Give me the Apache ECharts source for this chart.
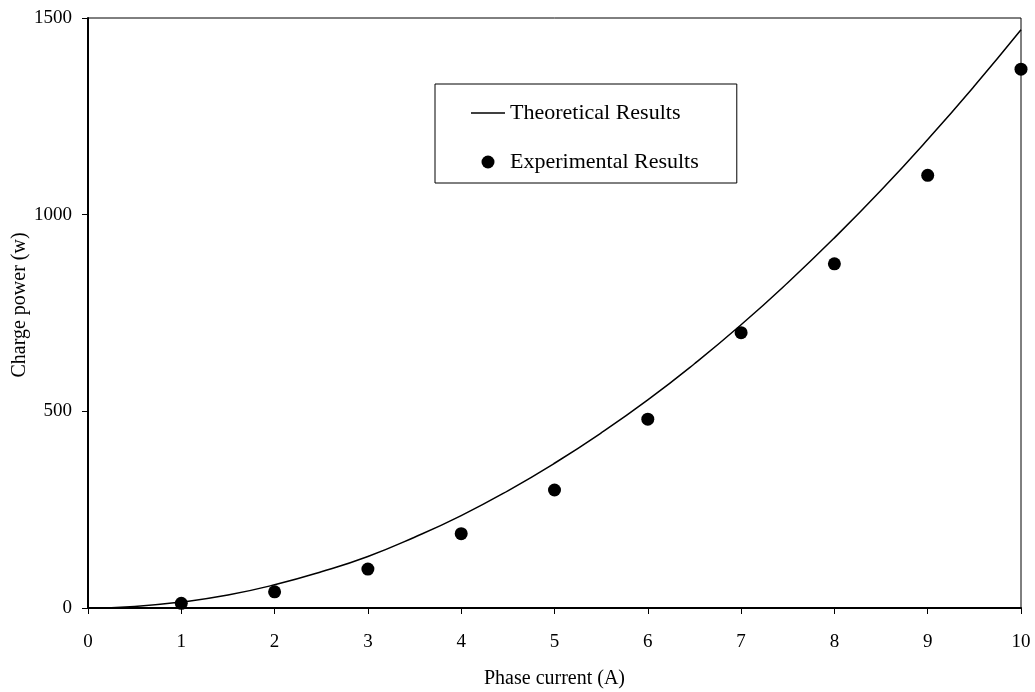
<!DOCTYPE html>
<html lang="en">
<head>
    <meta charset="UTF-8">
    <title>Charge power vs phase current</title>
    <script src="https://cdn.jsdelivr.net/npm/echarts@6/dist/echarts.min.js"></script>
    <style>
        html, body { margin: 0; padding: 0; background: #fff; }
        #main { width: 1035px; height: 692px; }
    </style>
</head>
<body>
<div id="main"></div>
<script type="text/javascript">
    // theoretical curve, every 0.5 A
    var theoX = [0, 0.5, 1, 1.5, 2, 2.5, 3, 3.5, 4, 4.5, 5, 5.5, 6, 6.5, 7, 7.5, 8, 8.5, 9, 9.5, 10];
    var theoY = [0, 4, 15, 33, 59, 92, 131, 180, 235, 298, 368, 445, 529, 621, 720, 827, 941, 1062, 1191, 1327, 1470];
    // measured points
    var expX = [1, 2, 3, 4, 5, 6, 7, 8, 9, 10];
    var expY = [12, 41, 99, 189, 300, 480, 700, 875, 1100, 1370];

    var fontName = '"Liberation Serif", "DejaVu Serif", serif';

    var myChart = echarts.init(document.getElementById('main'));
    var option = {
        animation: false,
        backgroundColor: '#fff',
        textStyle: { fontFamily: fontName, color: '#000' },
        grid: {
            left: 88,
            right: 14,
            top: 18,
            bottom: 84,
            containLabel: false,
            outerBoundsMode: 'none',
            show: true,
            borderColor: '#000',
            borderWidth: 1
        },
        legend: {
            orient: 'vertical',
            left: 435,
            top: 84,
            borderColor: '#000',
            borderWidth: 1,
            padding: [18, 38, 10, 36],
            itemGap: 27,
            itemWidth: 34,
            itemHeight: 13,
            textStyle: { fontFamily: fontName, fontSize: 22, color: '#000' },
            data: [
                { name: 'Theoretical Results', icon: 'path://M0,6 L34,6 L34,7.6 L0,7.6 Z' },
                { name: 'Experimental Results', icon: 'circle' }
            ]
        },
        xAxis: {
            type: 'value',
            min: 0,
            max: 10,
            interval: 1,
            name: 'Phase current (A)',
            nameLocation: 'middle',
            nameGap: 61,
            nameMoveOverlap: false,
            nameTextStyle: { fontFamily: fontName, fontSize: 20, color: '#000' },
            axisLine: { show: true, lineStyle: { color: '#000', width: 2 } },
            axisTick: { show: true, inside: false, length: 6, lineStyle: { color: '#000', width: 1 } },
            axisLabel: { margin: 25, fontFamily: fontName, fontSize: 19, color: '#000' },
            splitLine: { show: false }
        },
        yAxis: {
            type: 'value',
            min: 0,
            max: 1500,
            interval: 500,
            name: 'Charge power (w)',
            nameLocation: 'middle',
            nameRotate: 90,
            nameGap: 58,
            nameMoveOverlap: false,
            nameTextStyle: { fontFamily: fontName, fontSize: 20, color: '#000', padding: [0, 0, 0, 16] },
            axisLine: { show: true, lineStyle: { color: '#000', width: 2 } },
            axisTick: { show: true, inside: false, length: 6, lineStyle: { color: '#000', width: 1 } },
            axisLabel: {
                margin: 16, fontFamily: fontName, fontSize: 19, color: '#000',
                formatter: function (v) { return String(v); }
            },
            splitLine: { show: false }
        },
        series: [
            {
                name: 'Theoretical Results',
                type: 'line',
                smooth: true,
                symbol: 'none',
                lineStyle: { color: '#000', width: 1.5 },
                itemStyle: { color: '#000' },
                data: theoX.map(function (x, i) { return [x, theoY[i]]; })
            },
            {
                name: 'Experimental Results',
                type: 'scatter',
                symbol: 'circle',
                symbolSize: 13,
                itemStyle: { color: '#000', opacity: 1 },
                data: expX.map(function (x, i) { return [x, expY[i]]; })
            }
        ]
    };
    myChart.setOption(option);
</script>
</body>
</html>
